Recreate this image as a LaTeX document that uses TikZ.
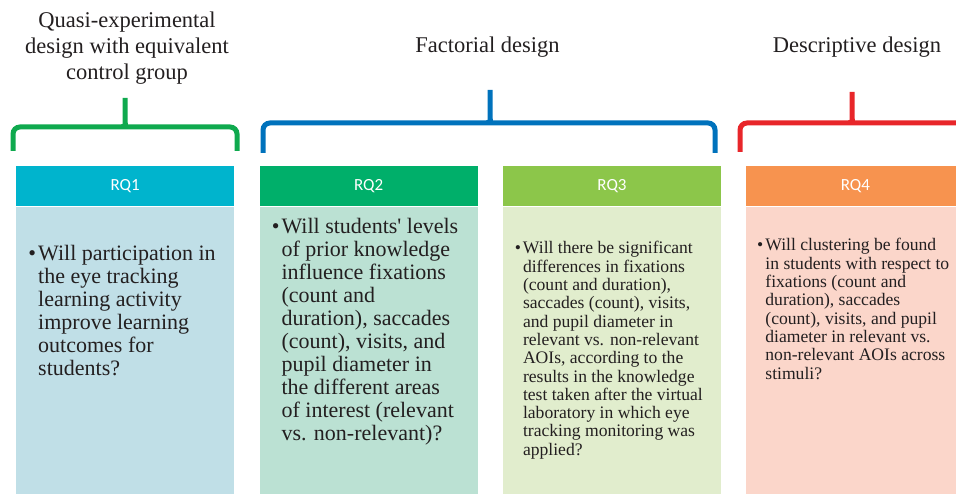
\documentclass[tikz,border=0pt]{standalone}
\usepackage{fontspec}
\setmainfont{Liberation Serif}
\newfontfamily\headfont{Carlito}
\usetikzlibrary{positioning}
\definecolor{headA}{HTML}{00B4CD}
\definecolor{bodyA}{HTML}{C0DFE7}
\definecolor{headB}{HTML}{00AF6A}
\definecolor{bodyB}{HTML}{BBE1D3}
\definecolor{headC}{HTML}{8CC64A}
\definecolor{bodyC}{HTML}{E1EDCD}
\definecolor{headD}{HTML}{F7934F}
\definecolor{bodyD}{HTML}{FBD6CA}
\definecolor{braceA}{HTML}{0FA94E}
\definecolor{braceB}{HTML}{0072BC}
\definecolor{braceC}{HTML}{E8262A}
\definecolor{ink}{HTML}{231F20}
% color, left x, tip x, right x, foot y, bar y, tip y
\newcommand\designbrace[7]{%
  \draw[brace, #1] (#2,#5) -- (#2,#6) -- (#3-7,#6)
    .. controls (#3-1.5,#6) and (#3,#6+2) .. (#3,#6+8) -- (#3,#7)
    (#3,#6+8) .. controls (#3,#6+2) and (#3+1.5,#6) .. (#3+7,#6)
    -- (#4,#6) -- (#4,#5);}

\begin{document}
\begin{tikzpicture}[x=1pt, y=1pt]
  \tikzstyle{head} = [rectangle, minimum width=218pt, minimum height=40pt, inner sep=0pt,
                      text=white, font=\headfont\fontsize{17}{20}\selectfont]
  \tikzstyle{back} = [rectangle, minimum width=218pt, minimum height=292pt, inner sep=0pt]
  \tikzstyle{bigq} = [anchor=north west, inner sep=0pt, align=left, text=ink,
                      font=\fontsize{22}{23}\selectfont]
  \tikzstyle{smallq} = [anchor=north west, inner sep=0pt, align=left, text=ink,
                      font=\fontsize{17.6}{18.3}\selectfont]
  \tikzstyle{design} = [align=center, text=ink, font=\fontsize{22.5}{26}\selectfont]
  \tikzstyle{brace} = [line width=5pt, rounded corners=7pt]
\clip (0,0) rectangle (956,493);
\node[head, fill=headA, anchor=north west] (rq1) at (16,327) {RQ1};
\node[head, fill=headB, right=25pt of rq1] (rq2) {RQ2};
\node[head, fill=headC, right=25pt of rq2] (rq3) {RQ3};
\node[head, fill=headD, right=25pt of rq3] (rq4) {RQ4};
\node[back, fill=bodyA, below=0pt of rq1] (back1) {};
\node[back, fill=bodyB, below=0pt of rq2] (back2) {};
\node[back, fill=bodyC, below=0pt of rq3] (back3) {};
\node[back, fill=bodyD, below=0pt of rq4] (back4) {};
\node[bigq, below right=39pt and 22pt of rq1.south west] (q1) {\llap{\textbullet\hspace{2pt}}Will participation in\\
  the eye tracking\\learning activity\\improve learning\\outcomes for\\students?};
\node[bigq, below right=12pt and 22pt of rq2.south west] (q2) {\llap{\textbullet\hspace{2pt}}Will students\textquotesingle{} levels\\
  of prior knowledge\\influence fixations\\(count and\\duration), saccades\\(count), visits, and\\
  pupil diameter in\\the different areas\\of interest (relevant\\vs. non-relevant)?};
\node[smallq, below right=35pt and 20pt of rq3.south west] (q3) {\llap{\textbullet\hspace{2pt}}Will there be significant\\
  differences in fixations\\(count and duration),\\saccades (count), visits,\\and pupil diameter in\\
  relevant vs. non-relevant\\AOIs, according to the\\results in the knowledge\\test taken after the virtual\\
  laboratory in which eye\\tracking monitoring was\\applied?};
\node[smallq, below right=32pt and 19pt of rq4.south west] (q4) {\llap{\textbullet\hspace{2pt}}Will clustering be found\\
  in students with respect to\\fixations (count and\\duration), saccades\\(count), visits, and pupil\\
  diameter in relevant vs.\\non-relevant AOIs across\\stimuli?};
\designbrace{braceA}{13}{125}{237}{342}{366}{395}
\designbrace{braceB}{263}{490}{715}{340}{370}{403}
\designbrace{braceC}{740}{852}{964}{341}{370}{401}
\node[design] (quasi) at (127,445) {Quasi-experimental\\design with equivalent\\control group};
\node[design, anchor=base] (factorial) at (487.5,440) {Factorial design};
\node[design, anchor=base] (descriptive) at (857,440) {Descriptive design};
\end{tikzpicture}
\end{document}
